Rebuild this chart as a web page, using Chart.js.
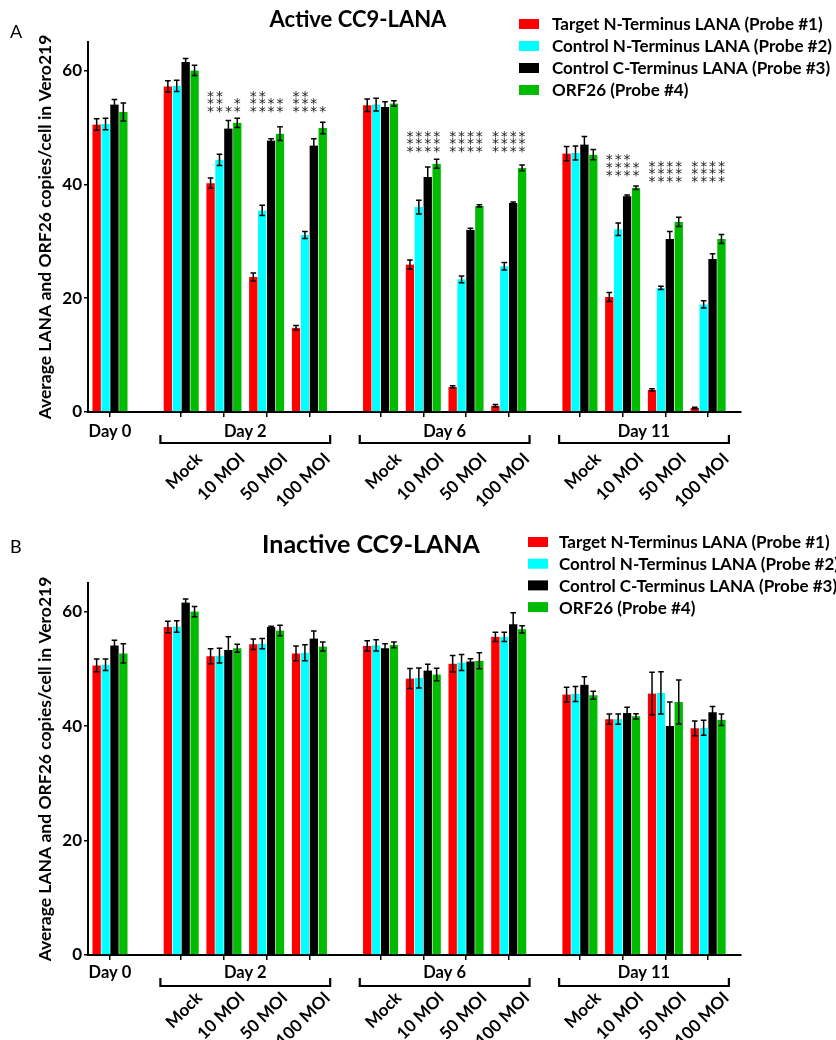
<!DOCTYPE html>
<html><head><meta charset="utf-8">
<script src="https://cdn.jsdelivr.net/npm/chart.js@4.4.1/dist/chart.umd.min.js"></script>
<style>
html,body{margin:0;padding:0;background:#fff;}
#wrap{width:836px;height:1040px;position:relative;overflow:hidden;}
canvas{display:block;}
</style></head><body>
<div id="wrap"><canvas id="cA" width="836" height="520"></canvas><canvas id="cB" width="836" height="520"></canvas></div>
<script>
// ---------------- DATA ----------------
const seriesNames = ['Target N-Terminus LANA (Probe #1)','Control N-Terminus LANA (Probe #2)','Control C-Terminus LANA (Probe #3)','ORF26 (Probe #4)'];
const seriesColors = ['#ff0000','#00ffff','#000000','#00bb00'];
const dayGroups = ['Day 0','Day 2','Day 6','Day 11'];
const groupItems = [[''],['Mock','10 MOI','50 MOI','100 MOI'],['Mock','10 MOI','50 MOI','100 MOI'],['Mock','10 MOI','50 MOI','100 MOI']];
const yTicks = [0,20,40,60];

// Panel A: Active CC9-LANA (13 categories: Day0, Day2 x4, Day6 x4, Day11 x4)
const activeProbe1 = [50.5,57.2,40.2,23.7,14.8,53.9,25.9,4.4,1.1,45.4,20.2,3.9,0.7];
const activeProbe1Err = [1.0,1.0,0.9,0.7,0.4,1.1,0.8,0.2,0.2,1.25,0.8,0.2,0.15];
const activeProbe2 = [50.6,57.3,44.3,35.4,31.1,54.0,36.0,23.3,25.6,45.5,32.1,21.8,18.9];
const activeProbe2Err = [1.0,1.0,1.0,0.9,0.6,1.1,1.2,0.6,0.65,1.25,1.1,0.3,0.65];
const activeProbe3 = [54.0,61.5,49.8,47.7,46.8,53.6,41.3,32.0,36.7,47.0,37.9,30.4,26.9];
const activeProbe3Err = [0.9,0.6,1.4,0.3,1.2,0.9,1.75,0.3,0.2,1.4,0.2,1.3,0.9];
const activeProbe4 = [52.7,60.0,50.8,48.9,49.9,54.2,43.6,36.2,42.9,45.2,39.4,33.4,30.4];
const activeProbe4Err = [1.6,0.9,0.8,1.2,1.0,0.5,0.8,0.2,0.5,0.9,0.3,0.8,0.8];
// significance asterisks: stars per probe column, and the value of the lowest row
const activeStars = [null,null,[3,3,1,2],[3,3,2,2],[3,3,2,1],null,[3,3,3,3],[3,3,3,3],[3,3,3,3],null,[3,3,3,2],[3,3,3,3],[3,3,3,3]];
const activeStarLevel = [0,0,53.5,53.5,53.5,0,46.5,46.5,46.5,0,42.3,41.2,41.2];

// Panel B: Inactive CC9-LANA
const inactiveProbe1 = [50.6,57.3,52.2,54.3,52.7,54.0,48.3,50.9,55.6,45.5,41.2,45.7,39.6];
const inactiveProbe1Err = [1.1,1.0,1.3,0.9,1.3,0.9,1.75,1.45,0.8,1.3,0.9,3.7,1.3];
const inactiveProbe2 = [50.7,57.4,52.3,54.4,52.8,54.1,48.4,51.1,55.6,45.6,41.2,45.8,39.7];
const inactiveProbe2Err = [1.0,1.0,1.3,0.9,1.4,1.0,1.75,1.4,0.8,1.3,0.9,3.7,1.3];
const inactiveProbe3 = [54.1,61.6,53.3,57.3,55.3,53.6,49.7,51.3,57.8,47.2,42.3,40.0,42.4];
const inactiveProbe3Err = [0.9,0.6,2.3,0.15,1.3,0.8,1.1,0.45,2.0,1.4,1.0,4.2,1.0];
const inactiveProbe4 = [52.7,60.0,53.6,56.7,53.9,54.2,49.0,51.4,56.9,45.4,41.7,44.2,41.1];
const inactiveProbe4Err = [1.7,0.9,0.7,0.9,0.8,0.5,1.1,1.4,0.65,0.7,0.45,3.85,1.0];

// ---------------- LAYOUT ----------------
const FONT = 'Lato';
const W = 'bold';
const BAR_W = 8.9;
const GROUP_GAP = 5/3;
// category positions along linear x
const positions = [];
const groupIndex = [];
(function(){
  let p = 0;
  groupItems.forEach((items, g) => {
    if (g > 0) p += GROUP_GAP;
    items.forEach((it, k) => { positions.push(p); groupIndex.push(g); if (k < items.length - 1) p += 1; });
  });
})();

function makePlugin(cfg) {
  return {
    id: 'annot_' + cfg.id,
    afterDatasetsDraw(chart) {
      const ctx = chart.ctx, ys = chart.scales.y;
      ctx.save();
      // error bars
      cfg.values.forEach((vals, di) => {
        const meta = chart.getDatasetMeta(di);
        meta.data.forEach((el, i) => {
          const v = vals[i], e = cfg.errors[di][i];
          const yT = ys.getPixelForValue(v + e), yB = ys.getPixelForValue(v - e);
          ctx.strokeStyle = '#000'; ctx.lineWidth = 1.5;
          ctx.beginPath();
          ctx.moveTo(el.x, yT); ctx.lineTo(el.x, yB);
          ctx.moveTo(el.x - 2.8, yT); ctx.lineTo(el.x + 2.8, yT);
          ctx.moveTo(el.x - 2.8, yB); ctx.lineTo(el.x + 2.8, yB);
          ctx.stroke();
        });
      });
      // asterisks
      if (cfg.stars) {
        ctx.fillStyle = '#222'; ctx.font = '14px "DejaVu Sans"';
        ctx.textAlign = 'center'; ctx.textBaseline = 'alphabetic';
        cfg.stars.forEach((cnt, j) => {
          if (!cnt) return;
          const y0 = ys.getPixelForValue(cfg.starLevel[j]);
          cnt.forEach((n, di) => {
            const el = chart.getDatasetMeta(di).data[j];
            for (let k = 0; k < n; k++) ctx.fillText('*', el.x, y0 - k * 7.6 + 8.4);
          });
        });
      }
      ctx.restore();
    },
    afterDraw(chart) {
      const ctx = chart.ctx, xs = chart.scales.x, area = chart.chartArea;
      const bot = area.bottom;
      ctx.save();
      ctx.fillStyle = '#000'; ctx.strokeStyle = '#000';
      // group labels, brackets, rotated item labels
      groupItems.forEach((items, g) => {
        const idx = [];
        groupIndex.forEach((gi, i) => { if (gi === g) idx.push(i); });
        const x0 = xs.getPixelForValue(positions[idx[0]]);
        const x1 = xs.getPixelForValue(positions[idx[idx.length - 1]]);
        ctx.font = W + ' 16.5px ' + FONT;
        ctx.textAlign = 'center'; ctx.textBaseline = 'alphabetic';
        ctx.fillText(dayGroups[g], (x0 + x1) / 2, bot + cfg.dayDy);
        if (items.length > 1) {
          const l = x0 - 2 * BAR_W - 3, r = x1 + 2 * BAR_W + 3;
          ctx.lineWidth = 2.2;
          ctx.beginPath();
          ctx.moveTo(l, bot + cfg.brDy - 8); ctx.lineTo(l, bot + cfg.brDy);
          ctx.lineTo(r, bot + cfg.brDy); ctx.lineTo(r, bot + cfg.brDy - 8);
          ctx.stroke();
          ctx.font = W + ' 17px ' + FONT;
          idx.forEach((i, k) => {
            const px = xs.getPixelForValue(positions[i]);
            ctx.save();
            ctx.translate(px + 18, bot + cfg.rotDy);
            ctx.rotate(-Math.PI / 4);
            ctx.textAlign = 'right'; ctx.textBaseline = 'middle';
            ctx.fillText(items[k], 0, 0);
            ctx.restore();
          });
        }
      });
      // title
      ctx.font = W + ' ' + cfg.titleSize + 'px ' + FONT;
      ctx.textAlign = 'center'; ctx.textBaseline = 'alphabetic';
      ctx.fillText(cfg.title, cfg.titleX, cfg.titleY);
      // panel letter
      ctx.font = '18px ' + FONT; ctx.textAlign = 'left';
      ctx.fillText(cfg.letter, 10, cfg.letterY);
      // legend
      ctx.font = W + ' 17px ' + FONT; ctx.textBaseline = 'middle';
      seriesNames.forEach((n, i) => {
        const cy = cfg.legY + i * cfg.legStep;
        ctx.fillStyle = seriesColors[i];
        ctx.fillRect(cfg.legX, cy - 5, 20, 10);
        ctx.fillStyle = '#000';
        ctx.fillText(n, cfg.legX + cfg.legTextDx, cy + 1);
      });
      ctx.restore();
    }
  };
}

function buildChart(canvasId, cfg) {
  const datasets = cfg.values.map((vals, di) => ({
    label: seriesNames[di],
    data: vals.map((v, i) => ({ x: positions[i], y: v })),
    backgroundColor: seriesColors[di],
    borderColor: 'rgba(255,255,255,0.75)',
    borderWidth: { top: 0, bottom: 0, left: 0.6, right: 0.6 },
    borderSkipped: false,
    barThickness: BAR_W,
    grouped: true
  }));
  return new Chart(document.getElementById(canvasId), {
    type: 'bar',
    data: { datasets },
    options: {
      responsive: false, animation: false, devicePixelRatio: 1,
      layout: { padding: { top: cfg.padTop, bottom: cfg.padBottom, left: 0, right: 95 } },
      plugins: { legend: { display: false }, tooltip: { enabled: false } },
      scales: {
        x: {
          type: 'linear', min: -0.515, max: 14.77, offset: false,
          afterBuildTicks(s) { s.ticks = positions.map(v => ({ value: v })); },
          ticks: { display: false },
          grid: { display: true, offset: false, drawOnChartArea: false, drawTicks: true, tickLength: 5, color: '#000', lineWidth: 1.5 },
          border: { display: true, color: '#000', width: 2 }
        },
        y: {
          min: 0, max: 65,
          afterBuildTicks(s) { s.ticks = yTicks.map(v => ({ value: v })); },
          afterFit(s) { s.width = 88; },
          ticks: { includeBounds: false, color: '#000', padding: 2, font: { family: FONT, weight: W, size: 17 } },
          grid: { display: true, drawOnChartArea: false, drawTicks: true, tickLength: 4, color: '#000', lineWidth: 1.5 },
          border: { display: true, color: '#000', width: 2 },
          title: { display: true, text: 'Average LANA and ORF26 copies/cell in Vero219', color: '#000',
                   font: { family: FONT, weight: W, size: 17.5 }, padding: { top: 35, bottom: 0 } }
        }
      }
    },
    plugins: [makePlugin(cfg)]
  });
}

function build() {
  buildChart('cA', {
    id: 'A',
    values: [activeProbe1, activeProbe2, activeProbe3, activeProbe4],
    errors: [activeProbe1Err, activeProbe2Err, activeProbe3Err, activeProbe4Err],
    stars: activeStars, starLevel: activeStarLevel,
    padTop: 42, padBottom: 103,
    dayDy: 25, brDy: 31, rotDy: 44,
    title: 'Active CC9-LANA', titleSize: 22, titleX: 358, titleY: 27,
    letter: 'A', letterY: 38,
    legX: 519, legY: 24, legStep: 22, legTextDx: 33
  });
  buildChart('cB', {
    id: 'B',
    values: [inactiveProbe1, inactiveProbe2, inactiveProbe3, inactiveProbe4],
    errors: [inactiveProbe1Err, inactiveProbe2Err, inactiveProbe3Err, inactiveProbe4Err],
    stars: null, starLevel: null,
    padTop: 63, padBottom: 80,
    dayDy: 23, brDy: 31, rotDy: 40,
    title: 'Inactive CC9-LANA', titleSize: 25, titleX: 371, titleY: 33,
    letter: 'B', letterY: 33,
    legX: 528, legY: 22, legStep: 21.7, legTextDx: 31
  });
}
if (document.fonts && document.fonts.load) {
  Promise.all([document.fonts.load('bold 16px Lato'), document.fonts.load('16px Lato')]).then(build, build);
} else build();
</script>
</body></html>
